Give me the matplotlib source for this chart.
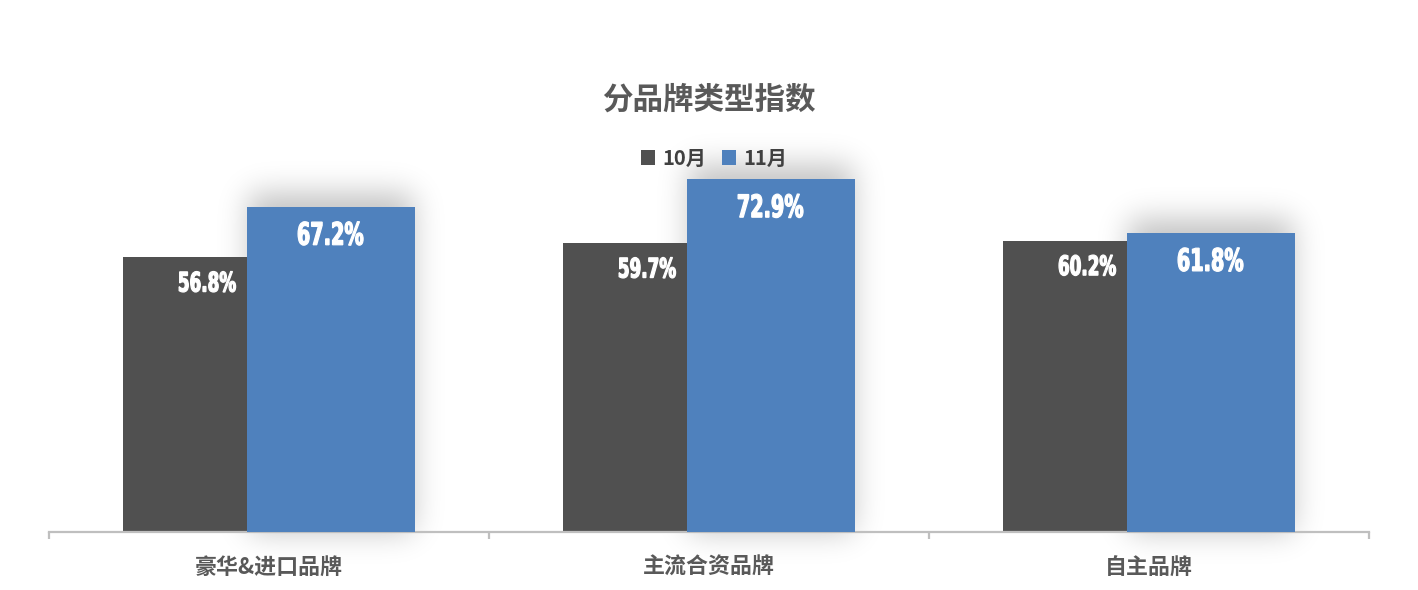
import matplotlib
matplotlib.use("Agg")
import matplotlib.pyplot as plt
import numpy as np
from matplotlib.textpath import TextPath
from matplotlib.font_manager import FontProperties
from matplotlib.patches import PathPatch
from matplotlib.transforms import Affine2D, ScaledTranslation

plt.rcParams['font.family'] = ['Noto Sans CJK SC', 'DejaVu Sans']

categories = ['豪华&进口品牌', '主流合资品牌', '自主品牌']
series_names = ['10月', '11月']
oct_vals = [56.8, 59.7, 60.2]
nov_vals = [67.2, 72.9, 61.8]

c_oct = '#505050'
c_nov = '#4f81bd'

W, H = 1418, 590
fig = plt.figure(figsize=(W / 100, H / 100), dpi=100)
ax = fig.add_axes([0.03456, 0.0983, 0.93084, 0.6559])
ax.patch.set_visible(False)

x = np.arange(len(categories))
w = 0.382
off = 0.14
ymax = 80

ax.set_xlim(-0.5, len(categories) - 0.5)
ax.set_ylim(0, ymax)

ax.bar(x - off, oct_vals, width=w, color=c_oct, zorder=2, label=series_names[0])
ax.bar(x + off, nov_vals, width=w, color=c_nov, zorder=3, label=series_names[1])

# blurred shadow behind the 11月 bars, built in pixel space
mask = np.zeros((H, W))
for xi, v in zip(x + off, nov_vals):
    (x0, y0), (x1, y1) = ax.transData.transform([(xi - w / 2, 0), (xi + w / 2, v)])
    x0, x1 = int(round(x0)) + 2, int(round(x1)) - 2
    y0, y1 = int(round(y0)), int(round(y1)) + 14
    mask[max(y0, 0):min(y1, H), max(x0, 0):min(x1, W)] = 1.0
sig = 15
k = np.exp(-0.5 * (np.arange(-4 * sig, 4 * sig + 1) / sig) ** 2)
k /= k.sum()
mask = np.apply_along_axis(lambda r: np.convolve(r, k, mode='same'), 1, mask)
mask = np.apply_along_axis(lambda c: np.convolve(c, k, mode='same'), 0, mask)
rgba = np.zeros((H, W, 4))
rgba[..., 3] = mask * 0.24
fig.figimage(rgba, 0, 0, origin='lower', zorder=-1)

# condensed heavy value labels
fp = FontProperties(family='DejaVu Sans', weight='bold')


def value_label(xv, yv, s, dy, cap):
    tp = TextPath((0, 0), s, size=100, prop=fp)
    bb = tp.get_extents()
    sc = cap / (bb.y1 - bb.y0)
    tr = (Affine2D().translate(-(bb.x0 + bb.x1) / 2, -(bb.y0 + bb.y1) / 2)
          .scale(sc * 0.62, sc).translate(0, dy)
          + ScaledTranslation(xv, yv, ax.transData))
    p = PathPatch(tp, transform=tr, facecolor='white', edgecolor='white',
                  lw=0.9, zorder=5, clip_on=False)
    ax.add_artist(p)


for xi, v in zip(x - off, oct_vals):
    value_label(xi, v, f'{v:.1f}%', -24.5, 20.5)
for xi, v in zip(x + off, nov_vals):
    value_label(xi, v, f'{v:.1f}%', -26.5, 23.5)

for s in ['top', 'right', 'left']:
    ax.spines[s].set_visible(False)
ax.spines['bottom'].set_color('#bfbfbf')
ax.spines['bottom'].set_linewidth(1.6)
ax.set_yticks([])

ax.set_xticks(np.arange(-0.5, len(categories)), labels=[''] * (len(categories) + 1))
ax.set_xticks(x, labels=categories, minor=True)
ax.tick_params(axis='x', which='major', length=5, width=1.6, color='#bfbfbf')
ax.tick_params(axis='x', which='minor', length=0, pad=17, labelsize=15.8,
               labelcolor='#595959')
for t in ax.get_xticklabels(minor=True):
    t.set_fontweight('bold')

fig.text(0.5, 1 - 100 / 590, '分品牌类型指数', ha='center', va='center',
         fontsize=22, fontweight='bold', color='#595959')

leg = fig.legend(loc='center', bbox_to_anchor=(714 / 1418, 1 - 158 / 590), ncol=2, frameon=False,
                 prop=dict(family=['Noto Sans CJK SC', 'DejaVu Sans'], weight='bold', size=14.5),
                 handlelength=0.7, handleheight=0.7, handletextpad=0.35, columnspacing=0.8)
for t in leg.get_texts():
    t.set_color('#404040')

fig.savefig('out.png', dpi=100)
